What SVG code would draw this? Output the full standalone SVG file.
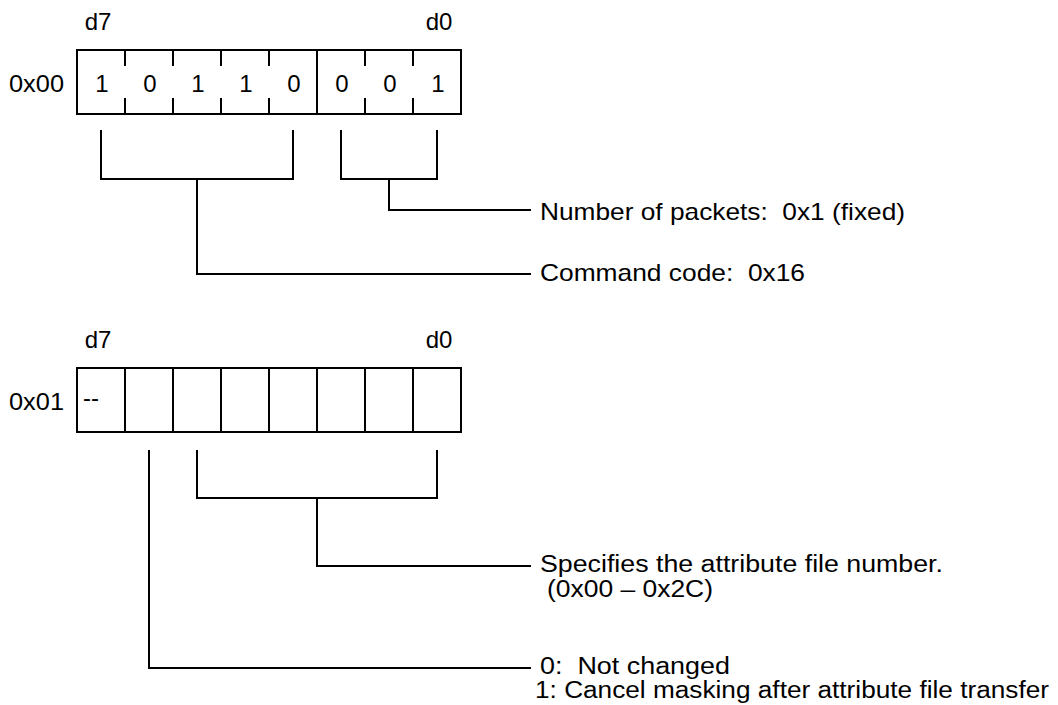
<svg xmlns="http://www.w3.org/2000/svg" width="1058" height="705" viewBox="0 0 1058 705">
<style>
  .t { font-family: "Liberation Sans", Arial, sans-serif; font-size: 24px; fill: #000; white-space: pre; }
  .s { font-size: 23px; }
  .ln { stroke: #000; stroke-width: 2; fill: none; }
</style>
<rect width="1058" height="705" fill="#fff"/>
<g id="reg0">
  <text class="t" x="98" y="30" text-anchor="middle">d7</text>
  <text class="t" x="439" y="30" text-anchor="middle">d0</text>
  <text class="t" x="9" y="92" textLength="55" lengthAdjust="spacingAndGlyphs">0x00</text>
  <rect class="ln" x="77" y="50" width="384" height="64"/>
  <path class="ln" d="M125 50V66M125 98V114M173 50V66M173 98V114M221 50V66M221 98V114M269 50V66M269 98V114M317 50V114M365 50V66M365 98V114M413 50V66M413 98V114"/>
  <g class="t" text-anchor="middle">
    <text x="102" y="92">1</text>
    <text x="150" y="92">0</text>
    <text x="198" y="92">1</text>
    <text x="246" y="92">1</text>
    <text x="294" y="92">0</text>
    <text x="342" y="92">0</text>
    <text x="390" y="92">0</text>
    <text x="438" y="92">1</text>
  </g>
</g>
<g id="reg1">
  <text class="t" x="98" y="348" text-anchor="middle">d7</text>
  <text class="t" x="439" y="348" text-anchor="middle">d0</text>
  <text class="t" x="9" y="410" textLength="55" lengthAdjust="spacingAndGlyphs">0x01</text>
  <rect class="ln" x="77" y="368" width="384" height="64"/>
  <path class="ln" d="M125 368V432M173 368V432M221 368V432M269 368V432M317 368V432M365 368V432M413 368V432"/>
  <text class="t" x="83" y="406">--</text>
</g>
<g id="labels">
  <text class="t" x="540" y="220" textLength="365" lengthAdjust="spacingAndGlyphs">Number of packets:  0x1 (fixed)</text>
  <text class="t" x="540" y="281" textLength="265" lengthAdjust="spacingAndGlyphs">Command code:  0x16</text>
  <text class="t s" x="540" y="572" textLength="403" lengthAdjust="spacingAndGlyphs">Specifies the attribute file number.</text>
  <text class="t s" x="547" y="597" textLength="166" lengthAdjust="spacingAndGlyphs">(0x00 – 0x2C)</text>
  <text class="t s" x="540" y="674" textLength="190" lengthAdjust="spacingAndGlyphs">0:  Not changed</text>
  <text class="t s" x="535" y="698" textLength="514" lengthAdjust="spacingAndGlyphs">1: Cancel masking after attribute file transfer</text>
</g>
<g id="connectors">
  <path class="ln" d="M101 130V179H293V130M197 179V274H531"/>
  <path class="ln" d="M341 130V179H437V130M389 179V210H531"/>
  <path class="ln" d="M197 450V498H437V450M317 498V566H531"/>
  <path class="ln" d="M149 450V668H531"/>
</g>
</svg>
